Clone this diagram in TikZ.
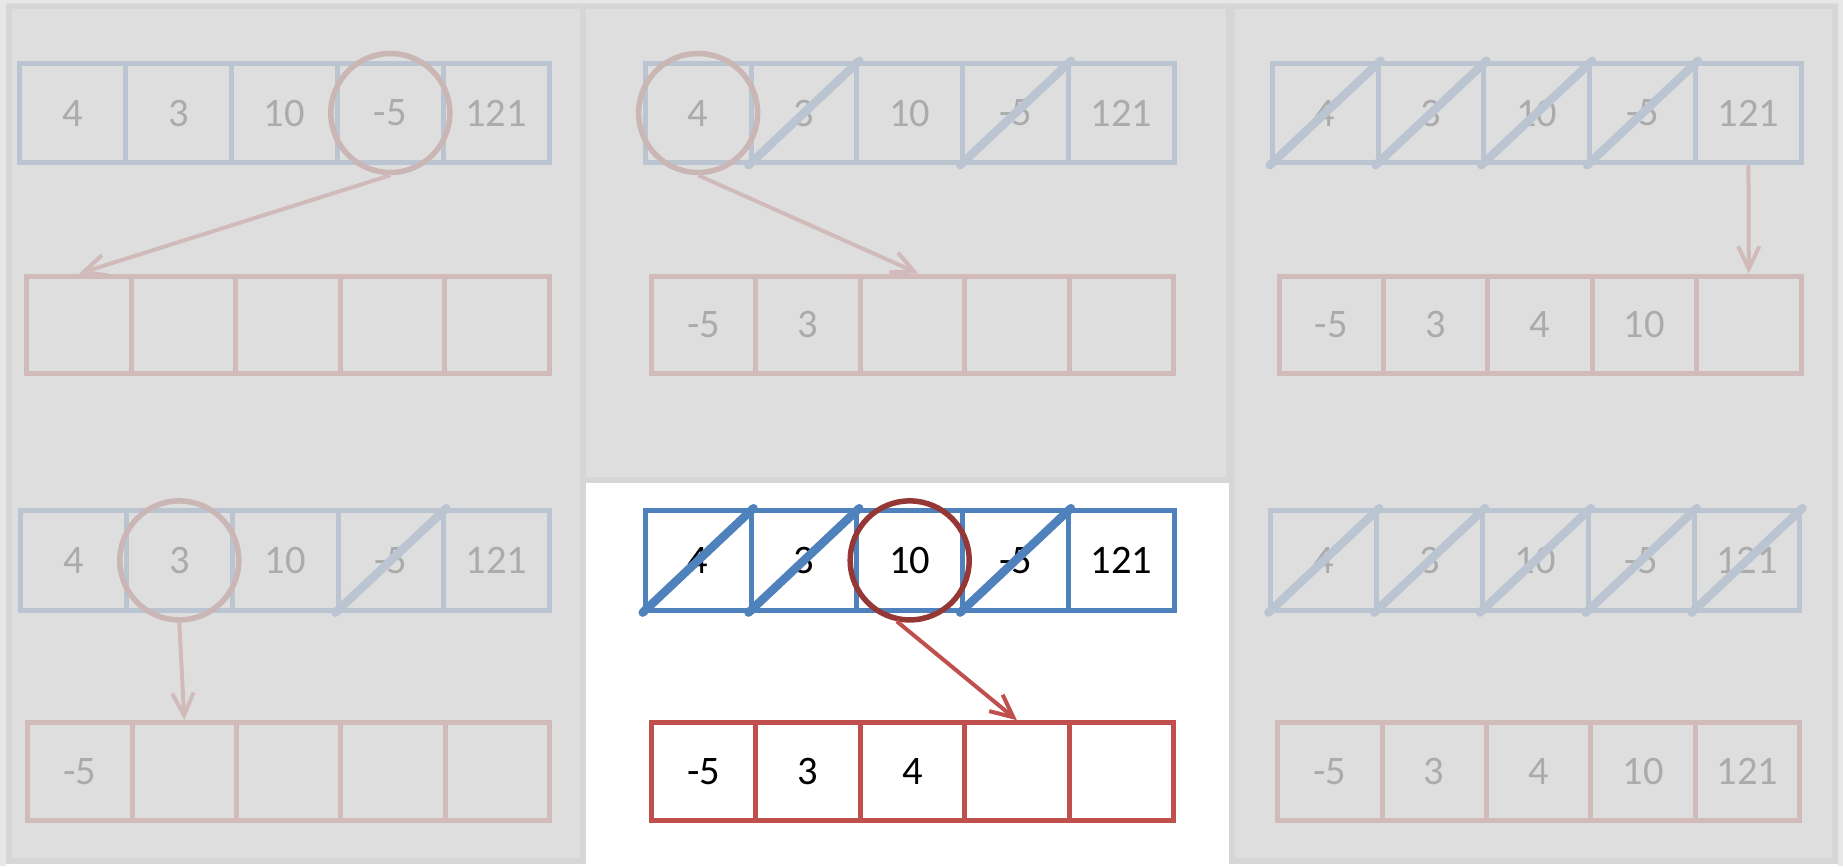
\documentclass[tikz,border=0pt]{standalone}
\usepackage{fontspec}
\setmainfont{Carlito}
\usetikzlibrary{arrows.meta}
\definecolor{oblue}{HTML}{4F81BD}
\definecolor{ored}{HTML}{C0504D}
\definecolor{dred}{HTML}{953735}
\definecolor{ovlc}{RGB}{214,214,214}
\definecolor{bordc}{RGB}{214,214,214}
\definecolor{margc}{RGB}{231,231,231}
\tikzset{
  numfont/.style={font=\fontsize{16.2pt}{18pt}\selectfont},
  bcell/.style={draw=oblue, line width=2pt, minimum width=42.32pt, minimum height=39.76pt, inner sep=0pt, numfont},
  rcell/.style={draw=ored, line width=2pt, minimum width=41.76pt, minimum height=39pt, inner sep=0pt, numfont},
  strike/.style={draw=oblue, line width=3.4pt, line cap=round},
  ring/.style={circle, draw=dred, line width=2.2pt, minimum size=47.6pt, inner sep=0pt},
  arr/.style={draw=ored, line width=1.6pt, -{Straight Barb[length=9pt,width=8.5pt,line width=1.6pt]}},
  veil/.style={fill=ovlc, fill opacity=0.8},
  rim/.style={draw=bordc, line width=2.2pt},
}
\newcommand{\bluearr}[4]{\foreach \v [count=\i] in {#4} \node[bcell] (#1\i) at ({#2+(\i-0.5)*105.8},{#3+49.7}) {\v};}
\newcommand{\redarr}[4]{\foreach \v [count=\i] in {#4} \node[rcell] (#1\i) at ({#2+(\i-0.5)*104.4},{#3+48.75}) {\v};}
\begin{document}
\begin{tikzpicture}[x=0.4pt,y=-0.4pt]
\useasboundingbox (0,0) rectangle (1843,866);
\fill[margc] (0,0) rectangle (1843,866);
\fill[white] (6,3.5) rectangle (1838,866);

% panel A (top left)
\bluearr{Ab}{20}{63.3}{4,3,10,-5,121}
\redarr{Ar}{27}{276}{{},{},{},{},{}}
\node[ring] (Ac) at (Ab4) {};
\draw[arr] (Ac.south) -- (Ar1.north);

% panel B (top middle)
\bluearr{Bb}{645.2}{63.3}{4,3,10,-5,121}
\foreach \k in {2,4} \draw[strike] (Bb\k.south west) -- (Bb\k.north east);
\redarr{Br}{651.5}{276}{-5,3,{},{},{}}
\node[ring] (Bc) at (Bb1) {};
\draw[arr] (Bc.south) -- ([xshift=2.4pt]Br3.north);

% panel C (top right)
\bluearr{Cb}{1272.3}{63.3}{4,3,10,-5,121}
\foreach \k in {1,2,3,4} \draw[strike] (Cb\k.south west) -- (Cb\k.north east);
\redarr{Cr}{1279}{276}{-5,3,4,10,{}}
\draw[arr] (Cb5.south) -- (Cr5.north);

% panel D (bottom left)
\bluearr{Db}{20.6}{510.7}{4,3,10,-5,121}
\foreach \k in {4} \draw[strike] (Db\k.south west) -- (Db\k.north east);
\redarr{Dr}{27.7}{722.7}{-5,{},{},{},{}}
\node[ring] (Dc) at (Db2) {};
\draw[arr] (Dc.south) -- (Dr2.north);

% panel E (bottom middle, highlighted)
\bluearr{Eb}{645.2}{510.7}{4,3,10,-5,121}
\foreach \k in {1,2,4} \draw[strike] (Eb\k.south west) -- (Eb\k.north east);
\redarr{Er}{651.5}{722.7}{-5,3,4,{},{}}
\node[ring] (Ec) at (Eb3) {};
\draw[arr] (Ec.258) -- (Er4.north);

% panel F (bottom right)
\bluearr{Fb}{1270.9}{510.7}{4,3,10,-5,121}
\foreach \k in {1,2,3,4,5} \draw[strike] (Fb\k.south west) -- (Fb\k.north east);
\redarr{Fr}{1277.6}{722.7}{-5,3,4,10,121}

% grey veils over the non-current steps
\path[veil] (6,3.5) rectangle (586,864);
\draw[rim] (9.1,6.6) rectangle (582.9,860.9);
\path[veil] (580,3.5) rectangle (1232,483);
\draw[rim] (583.1,6.6) rectangle (1228.9,479.9);
\path[veil] (1229,3.5) rectangle (1838,864);
\draw[rim] (1232.1,6.6) rectangle (1834.9,860.9);
\end{tikzpicture}
\end{document}
